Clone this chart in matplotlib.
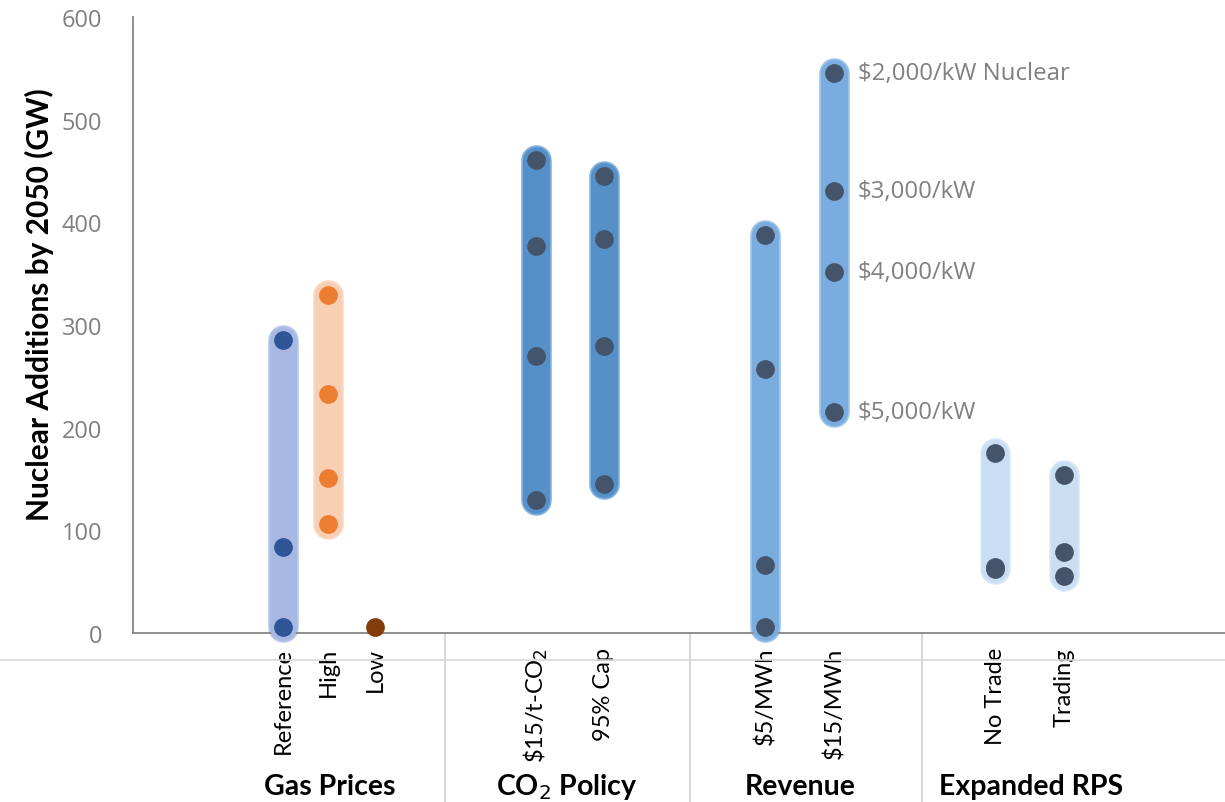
import matplotlib
matplotlib.use('Agg')
import matplotlib.pyplot as plt
from matplotlib.lines import Line2D
import matplotlib.transforms as mtransforms

# scenario data (GW of nuclear additions by 2050)
groups = ['Gas Prices', 'CO$_2$ Policy', 'Revenue', 'Expanded RPS']
categories = ['Reference', 'High', 'Low',
              r'\$15/t-CO$_2$', '95% Cap',
              r'\$5/MWh', r'\$15/MWh',
              'No Trade', 'Trading']
values = [
    [285, 84, 6],
    [329, 233, 151, 106],
    [6],
    [461, 377, 270, 130],
    [445, 384, 280, 145],
    [388, 257, 66, 6],
    [545, 431, 352, 215],
    [175, 64, 62],
    [154, 79, 56],
]
cost_labels = ['$2,000/kW Nuclear', '$3,000/kW', '$4,000/kW', '$5,000/kW']

# layout (pixel-like units along the x axis)
xpos = [283, 328, 375, 536, 604, 765, 834, 995, 1064]
group_centers = [330, 567, 800, 1031]
separators = [445, 690, 922]

bar_colors = ['#a6b9e3', '#f8cfb3', None, '#5591c8', '#5591c8',
              '#7aaddf', '#7aaddf', '#c9def3', '#c9def3']
edge_colors = ['#b6c7ec', '#fad9c3', None, '#7fb0de', '#7fb0de',
               '#9cc2e8', '#9cc2e8', '#d8e7f7', '#d8e7f7']
dot_colors = ['#2f5597', '#ed7d31', '#843c0c', '#44546a', '#44546a',
              '#44546a', '#44546a', '#44546a', '#44546a']

fig = plt.figure(figsize=(12.25, 8.03), dpi=100)
ax = fig.add_axes([133 / 1225, 1 - 634 / 803, 1 - 133 / 1225, 616 / 803])

for x, vals, bc, ec, dc in zip(xpos, values, bar_colors, edge_colors, dot_colors):
    if bc is not None and len(vals) > 1:
        ax.plot([x, x], [min(vals), max(vals)], color=ec, lw=22,
                solid_capstyle='round', clip_on=False, zorder=2)
        ax.plot([x, x], [min(vals), max(vals)], color=bc, lw=19.5,
                solid_capstyle='round', clip_on=False, zorder=3)
    ax.plot([x] * len(vals), vals, 'o', color=dc, ms=13.5, mew=0,
            clip_on=False, zorder=4)

# cost labels next to the $15/MWh scenario
for v, lab in zip(values[6], cost_labels):
    ax.annotate(lab.replace('$', r'\$'), (xpos[6], v), xytext=(17, 0),
                textcoords='offset points', va='center', ha='left',
                color='#808080', fontsize=17.3, family='Open Sans')

ax.set_xlim(133, 1225)
ax.set_ylim(0, 600)
ax.set_yticks(range(0, 601, 100))
ax.tick_params(axis='y', length=0, pad=22, labelsize=17, labelcolor='#808080')
for t in ax.get_yticklabels():
    t.set_family('Open Sans')
ax.set_xticks(xpos)
ax.set_xticklabels(categories, rotation=90, fontsize=17, family='Lato')
ax.tick_params(axis='x', length=0, pad=10)

ax.set_ylabel('Nuclear Additions by 2050 (GW)', fontsize=21.5, fontweight='bold',
              family='Lato')
ax.yaxis.set_label_coords(-(133 - 54) / 1092, 0.534)

for s in ['top', 'right']:
    ax.spines[s].set_visible(False)
ax.spines['left'].set_color('#868686')
ax.spines['bottom'].set_color('#868686')
ax.spines['left'].set_linewidth(1.3)
ax.spines['bottom'].set_linewidth(1.3)

trans = mtransforms.blended_transform_factory(ax.transData, ax.transAxes)
for gx, g in zip(group_centers, groups):
    ax.text(gx, -(787 - 634) / 616, g, transform=trans, ha='center', va='center',
            fontsize=20.5, fontweight='bold', family='Lato')
for sx in separators:
    ax.plot([sx, sx], [0, -(803 - 634) / 616], transform=trans, color='#d0d0d0',
            lw=1.2, clip_on=False)

fig.add_artist(Line2D([0, 1], [1 - 661 / 803, 1 - 661 / 803], color='#d9d9d9', lw=1.2))

fig.savefig('out.png', dpi=100)
